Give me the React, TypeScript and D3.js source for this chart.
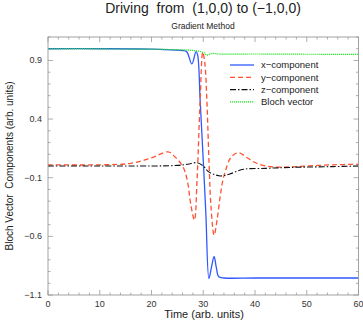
import React from "react";
import * as d3 from "d3";

// values
const timeX = [0, 10, 20, 24, 26, 26.8, 27.8, 28.6, 28.9, 29.4, 30, 30.5, 31.1, 31.6, 32.1, 32.5, 33, 34, 40, 50, 60];
const xComponent = [1.0, 1.0, 0.997, 0.99, 0.985, 0.975, 0.87, 0.975, 0.95, 0.56, 0.05, -0.4, -0.96, -0.86, -0.77, -0.86, -0.945, -0.955, -0.955, -0.955, -0.955];

const timeY = [0, 10, 16, 20, 23.2, 24.5, 26, 26.9, 27.6, 28.3, 28.8, 29.4, 29.9, 30.3, 30.7, 31.1, 31.5, 32.1, 32.7, 33.3, 33.8, 34.3, 35.3, 36.8, 38.5, 40, 42, 45, 50, 55, 60];
const yComponent = [0.01, 0.01, 0.023, 0.07, 0.12, 0.08, 0.0, -0.12, -0.33, -0.46, -0.12, 0.56, 0.97, 0.88, 0.56, 0.05, -0.35, -0.59, -0.45, -0.25, -0.12, -0.04, 0.07, 0.114, 0.07, 0.03, 0.0, -0.01, 0.0, 0.01, 0.015];

const timeZ = [0, 10, 20, 25, 27, 28.8, 30, 31, 32, 33.3, 35, 37.8, 42, 45, 48.8, 55, 60];
const zComponent = [0, 0, 0, 0.005, 0.015, 0.028, 0.0, -0.048, -0.07, -0.085, -0.07, -0.028, -0.02, -0.015, -0.01, -0.005, 0.0];

const timeB = [0, 10, 20, 26, 28, 29, 30.1, 30.7, 31.7, 33, 40, 50, 60];
const blochVector = [0.998, 0.998, 0.996, 0.99, 0.985, 0.98, 0.966, 0.946, 0.96, 0.955, 0.955, 0.953, 0.952];

const xTicks = [0, 10, 20, 30, 40, 50, 60];
const yTicks = [-1.1, -0.6, -0.1, 0.4, 0.9];
const legendLabels = ["x\u2212component", "y\u2212component", "z\u2212component", "Bloch vector"];

const W = 363, H = 327;
const left = 48, right = 358.5, top = 37, bottom = 295;
const font = "'Liberation Sans', Arial, sans-serif";

export default function App() {
  const x = d3.scaleLinear().domain([0, 60]).range([left, right]);
  const y = d3.scaleLinear().domain([-1.1, 1.1]).range([bottom, top]);
  const fmt = d3.format(".1f");

  const line = (ts: number[], vs: number[]) =>
    d3.line<number>()
      .x((_, i) => x(ts[i]))
      .y(d => y(d))
      .curve(d3.curveCatmullRom.alpha(0.5))(vs) || "";

  const series = [
    { d: line(timeX, xComponent), color: "#3058ff", dash: "", w: 1.3 },
    { d: line(timeY, yComponent), color: "#ff5030", dash: "5,3", w: 1.3 },
    { d: line(timeZ, zComponent), color: "#111", dash: "6,2,1.5,2", w: 1.1 },
    { d: line(timeB, blochVector), color: "#22e022", dash: "1.2,0.8", w: 1.2 },
  ];

  const xMinor = d3.range(0, 60.01, 2);
  const yMinor = d3.range(-11, 11.01, 1).map(v => v / 10);

  return (
    <svg width={W} height={H} style={{ position: "absolute", left: 0, top: 0 }} fontFamily={font}>
      <rect width={W} height={H} fill="#fff" />
      <text x={203} y={13} fontSize={14} textAnchor="middle" fill="#222">{"Driving\u00a0 from\u00a0 (1,0,0) to (\u22121,0,0)"}</text>
      <text x={203} y={29} fontSize={8.5} textAnchor="middle" fill="#222">Gradient Method</text>

      <defs>
        <clipPath id="plot"><rect x={left} y={top} width={right - left} height={bottom - top} /></clipPath>
      </defs>

      {/* ticks, drawn inward on all four sides */}
      <g stroke="#999" strokeWidth={0.8}>
        {xMinor.map(t => {
          const len = t % 10 === 0 ? 5 : 2.5;
          return (
            <g key={"x" + t}>
              <line x1={x(t)} x2={x(t)} y1={bottom} y2={bottom - len} />
              <line x1={x(t)} x2={x(t)} y1={top} y2={top + len} />
            </g>
          );
        })}
        {yMinor.map(v => {
          const major = yTicks.some(t => Math.abs(t - v) < 1e-6);
          const len = major ? 5 : 2.5;
          return (
            <g key={"y" + v}>
              <line x1={left} x2={left + len} y1={y(v)} y2={y(v)} />
              <line x1={right} x2={right - len} y1={y(v)} y2={y(v)} />
            </g>
          );
        })}
      </g>

      <g clipPath="url(#plot)">
        {series.map((s, i) => (
          <path key={i} d={s.d} fill="none" stroke={s.color} strokeWidth={s.w} strokeDasharray={s.dash} />
        ))}
      </g>

      <rect x={left} y={top} width={right - left} height={bottom - top} fill="none" stroke="#999" strokeWidth={0.9} />

      <g fontSize={9} fill="#333">
        {xTicks.map(t => (
          <text key={t} x={x(t)} y={307} textAnchor="middle">{t}</text>
        ))}
        {yTicks.map(t => (
          <text key={t} x={42} y={y(t) + 3} textAnchor="end">{fmt(t)}</text>
        ))}
      </g>

      <text x={204} y={318} fontSize={11} textAnchor="middle" fill="#222">Time (arb. units)</text>
      <text transform={`translate(12.5,${(top + bottom) / 2}) rotate(-90)`} fontSize={10} textAnchor="middle" fill="#222">
        {"Bloch Vector\u00a0 Components (arb. units)"}
      </text>

      <g>
        {legendLabels.map((lab, i) => {
          const ly = 65 + i * 12.3;
          const s = series[i];
          return (
            <g key={lab}>
              <line x1={230} x2={254} y1={ly} y2={ly} stroke={s.color} strokeWidth={s.w} strokeDasharray={s.dash} />
              <text x={261} y={ly + 3.3} fontSize={9.5} fill="#222">{lab}</text>
            </g>
          );
        })}
      </g>
    </svg>
  );
}
